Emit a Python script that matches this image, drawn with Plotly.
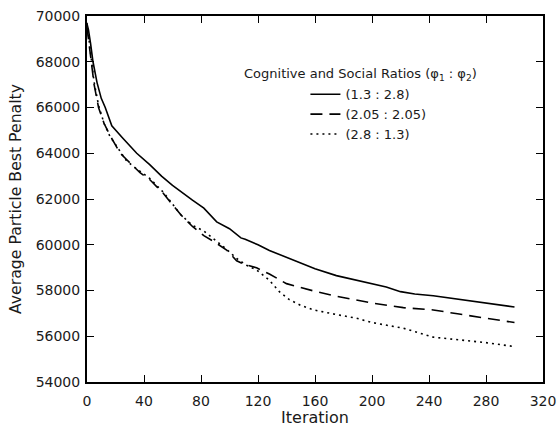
import plotly.graph_objects as go

iter_a = [0, 1, 2.5, 4.2, 7, 10, 12.8, 17.4, 25, 34.9, 44, 52.3, 60, 69.8, 74, 82, 91, 100, 108, 111, 120, 128, 136, 150, 160, 175, 190, 200, 210, 220, 230, 243, 260, 280, 300]
pen_a = [69650, 69400, 68800, 68000, 67100, 66400, 66000, 65200, 64670, 64000, 63500, 63000, 62600, 62130, 61950, 61600, 61000, 60700, 60300, 60240, 60000, 59750, 59550, 59200, 58950, 58650, 58450, 58300, 58150, 57950, 57850, 57770, 57620, 57450, 57280]

iter_b = [0, 1, 2.8, 5, 8.1, 12, 16, 23.3, 27.4, 32, 37.2, 44, 53.5, 58, 66, 74, 82, 90, 98, 105, 110, 119, 128, 140, 159, 175, 189, 200, 222, 243, 260, 280, 300]
pen_b = [69500, 69000, 68000, 67000, 66000, 65300, 64800, 64000, 63750, 63450, 63150, 62850, 62250, 61900, 61300, 60800, 60400, 60100, 59770, 59300, 59150, 58990, 58720, 58300, 57980, 57750, 57590, 57450, 57250, 57150, 56980, 56790, 56600]

iter_c = [0, 1, 2.8, 5, 8.1, 12, 16, 23.3, 27.4, 32, 37.2, 44, 53.5, 58, 66, 74, 82, 90, 98, 105, 112, 119, 128, 135, 142, 150, 159, 175, 189, 200, 222, 243, 260, 280, 300]
pen_c = [69700, 69200, 68100, 67100, 66100, 65300, 64750, 64050, 63700, 63450, 63200, 62900, 62300, 61950, 61300, 60850, 60600, 60200, 59800, 59400, 59100, 58900, 58450, 57950, 57600, 57350, 57150, 56950, 56790, 56600, 56350, 55960, 55850, 55720, 55550]

names = ["(1.3 : 2.8)", "(2.05 : 2.05)", "(2.8 : 1.3)"]
legend_title = "Cognitive and Social Ratios (φ<sub>1</sub> : φ<sub>2</sub>)"
xt = [0, 40, 80, 120, 160, 200, 240, 280, 320]
yt = [54000, 56000, 58000, 60000, 62000, 64000, 66000, 68000, 70000]

FONT = "DejaVu Sans"
TXT = "#1a1a1a"
fig = go.Figure()
fig.add_trace(go.Scatter(x=iter_a, y=pen_a, mode="lines", name=names[0],
                         line=dict(color="black", width=1.6)))
fig.add_trace(go.Scatter(x=iter_b, y=pen_b, mode="lines", name=names[1],
                         line=dict(color="black", width=1.6, dash="12px,7px")))
fig.add_trace(go.Scatter(x=iter_c, y=pen_c, mode="lines", name=names[2],
                         line=dict(color="black", width=1.6, dash="2px,4px")))

axis_common = dict(showgrid=False, zeroline=False, showline=True, linecolor="black",
                   linewidth=2, ticks="inside", ticklen=7, tickcolor="black",
                   tickwidth=1, mirror="ticks", automargin=False,
                   tickfont=dict(family=FONT, size=14, color=TXT))
fig.update_xaxes(range=[0, 320], tickvals=xt, ticktext=[str(v) for v in xt],
                 ticklabelstandoff=5,
                 title=dict(text="Iteration", font=dict(family=FONT, size=16, color=TXT), standoff=5),
                 **axis_common)
fig.update_yaxes(range=[54000, 70000], tickvals=yt, ticktext=[str(v) for v in yt],
                 ticklabelstandoff=2,
                 title=dict(text="Average Particle Best Penalty", font=dict(family=FONT, size=15.7, color=TXT), standoff=10),
                 **axis_common)

fig.add_annotation(text=legend_title, xref="paper", yref="paper",
                   x=0.599, y=0.839, xanchor="center", yanchor="middle", showarrow=False,
                   font=dict(family=FONT, size=13, color=TXT))

fig.update_layout(
    width=559, height=427,
    margin=dict(l=87, r=16, t=16, b=45),
    plot_bgcolor="white", paper_bgcolor="white",
    font=dict(family=FONT, size=13, color=TXT),
    legend=dict(x=0.479, y=0.827, xanchor="left", yanchor="top",
                bgcolor="rgba(0,0,0,0)",
                font=dict(family=FONT, size=13, color=TXT), itemwidth=30),
    showlegend=True,
)
fig.write_html("out.html")
